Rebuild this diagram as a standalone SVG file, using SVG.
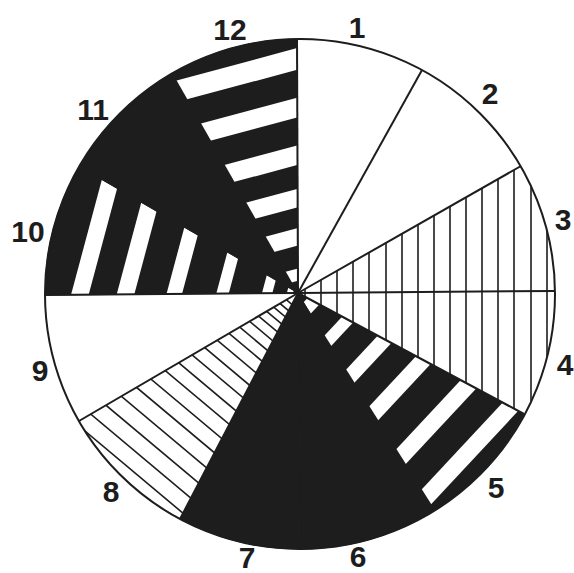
<svg xmlns="http://www.w3.org/2000/svg" width="574" height="573" viewBox="0 0 574 573">
<style>
.blk{fill:#1d1d1d;stroke:#1d1d1d;stroke-width:1}
.wht{fill:#ffffff}
.hatch line{stroke:#1d1d1d;stroke-width:1.6}
.bar{fill:#ffffff}
.div{stroke:#1d1d1d;stroke-width:2;fill:none}
.lbl{font-family:"Liberation Sans",Arial,sans-serif;font-weight:bold;font-size:30px;fill:#1d1d1d;text-anchor:middle}
</style>
<defs>
<clipPath id="c3"><path d="M298,293 L521,166 A255,255 0 0 1 555,291 Z"/></clipPath>
<clipPath id="c4"><path d="M298,293 L555,291 A255,255 0 0 1 524,414 Z"/></clipPath>
<clipPath id="c5"><path d="M298,293 L524,414 A255,255 0 0 1 435.1,510.3 Z"/></clipPath>
<clipPath id="c8"><path d="M298,293 L180,519 A255,255 0 0 1 79,421 Z"/></clipPath>
<clipPath id="c10"><path d="M298,293 L45,295 A255,255 0 0 1 79.2,166.5 Z"/></clipPath>
<clipPath id="c12"><path d="M298,293 L172.5,73.2 A255,255 0 0 1 297,39 Z"/></clipPath>
</defs>
<rect width="574" height="573" fill="#ffffff"/>

<g id="sector-1"><path class="wht" d="M298,293 L297,39 A255,255 0 0 1 422,70 Z"/></g>
<g id="sector-2"><path class="wht" d="M298,293 L422,70 A255,255 0 0 1 521,166 Z"/></g>
<g id="sector-3">
<path class="wht" d="M298,293 L521,166 A255,255 0 0 1 555,291 Z"/>
<g class="hatch" clip-path="url(#c3)">
<line x1="305" y1="0" x2="305" y2="573"/><line x1="321" y1="0" x2="321" y2="573"/><line x1="337" y1="0" x2="337" y2="573"/><line x1="353" y1="0" x2="353" y2="573"/><line x1="369" y1="0" x2="369" y2="573"/><line x1="386" y1="0" x2="386" y2="573"/><line x1="402" y1="0" x2="402" y2="573"/><line x1="418" y1="0" x2="418" y2="573"/><line x1="434" y1="0" x2="434" y2="573"/><line x1="450" y1="0" x2="450" y2="573"/><line x1="466" y1="0" x2="466" y2="573"/><line x1="482" y1="0" x2="482" y2="573"/><line x1="498" y1="0" x2="498" y2="573"/><line x1="514" y1="0" x2="514" y2="573"/><line x1="531" y1="0" x2="531" y2="573"/><line x1="547" y1="0" x2="547" y2="573"/>
</g>
</g>
<g id="sector-4">
<path class="wht" d="M298,293 L555,291 A255,255 0 0 1 524,414 Z"/>
<g class="hatch" clip-path="url(#c4)">
<line x1="305" y1="0" x2="305" y2="573"/><line x1="321" y1="0" x2="321" y2="573"/><line x1="337" y1="0" x2="337" y2="573"/><line x1="353" y1="0" x2="353" y2="573"/><line x1="369" y1="0" x2="369" y2="573"/><line x1="386" y1="0" x2="386" y2="573"/><line x1="402" y1="0" x2="402" y2="573"/><line x1="418" y1="0" x2="418" y2="573"/><line x1="434" y1="0" x2="434" y2="573"/><line x1="450" y1="0" x2="450" y2="573"/><line x1="466" y1="0" x2="466" y2="573"/><line x1="482" y1="0" x2="482" y2="573"/><line x1="498" y1="0" x2="498" y2="573"/><line x1="514" y1="0" x2="514" y2="573"/><line x1="531" y1="0" x2="531" y2="573"/><line x1="547" y1="0" x2="547" y2="573"/>
</g>
</g>
<g id="sector-5">
<path class="blk" d="M298,293 L524,414 A255,255 0 0 1 427.5,514.8 Z"/>
<g clip-path="url(#c5)"><g transform="translate(299,294) rotate(133)">
<rect class="bar" x="-300" y="-240" width="600" height="17"/>
<rect class="bar" x="-300" y="-194" width="600" height="17"/>
<rect class="bar" x="-300" y="-144" width="600" height="16"/>
<rect class="bar" x="-300" y="-101" width="600" height="15"/>
<rect class="bar" x="-300" y="-59" width="600" height="12"/>
<rect class="bar" x="-300" y="-22" width="600" height="13"/>
</g></g>
</g>
<g id="sector-6"><path class="blk" d="M298,293 L427.5,514.8 A255,255 0 0 1 300,549 Z"/></g>
<g id="sector-7"><path class="blk" d="M298,293 L300,549 A255,255 0 0 1 180,519 Z"/></g>
<g id="sector-8">
<path class="wht" d="M298,293 L180,519 A255,255 0 0 1 79,421 Z"/>
<g class="hatch" clip-path="url(#c8)"><g transform="translate(298,293) rotate(40)">
<line x1="-400" y1="256.3" x2="400" y2="256.3"/><line x1="-400" y1="242.6" x2="400" y2="242.6"/><line x1="-400" y1="226" x2="400" y2="226"/><line x1="-400" y1="209.4" x2="400" y2="209.4"/><line x1="-400" y1="192.7" x2="400" y2="192.7"/><line x1="-400" y1="176.1" x2="400" y2="176.1"/><line x1="-400" y1="160.5" x2="400" y2="160.5"/><line x1="-400" y1="144.8" x2="400" y2="144.8"/><line x1="-400" y1="130.1" x2="400" y2="130.1"/><line x1="-400" y1="115.5" x2="400" y2="115.5"/><line x1="-400" y1="101.8" x2="400" y2="101.8"/><line x1="-400" y1="88.1" x2="400" y2="88.1"/><line x1="-400" y1="75.3" x2="400" y2="75.3"/><line x1="-400" y1="63.6" x2="400" y2="63.6"/><line x1="-400" y1="52.8" x2="400" y2="52.8"/><line x1="-400" y1="43" x2="400" y2="43"/><line x1="-400" y1="34.2" x2="400" y2="34.2"/><line x1="-400" y1="26.4" x2="400" y2="26.4"/><line x1="-400" y1="19.6" x2="400" y2="19.6"/><line x1="-400" y1="12.7" x2="400" y2="12.7"/>
</g></g>
</g>
<g id="sector-9"><path class="wht" d="M298,293 L79,421 A255,255 0 0 1 45,295 Z"/></g>
<g id="sector-10">
<path class="blk" d="M298,293 L45,295 A255,255 0 0 1 79.2,166.5 Z"/>
<g clip-path="url(#c10)"><g transform="translate(299,294) rotate(-75)">
<rect class="bar" x="-300" y="-220" width="600" height="17"/>
<rect class="bar" x="-300" y="-176" width="600" height="17"/>
<rect class="bar" x="-300" y="-128" width="600" height="15"/>
<rect class="bar" x="-300" y="-80" width="600" height="12"/>
<rect class="bar" x="-300" y="-36" width="600" height="10"/>
<rect class="bar" x="-300" y="-12" width="600" height="6"/>
</g></g>
</g>
<g id="sector-11"><path class="blk" d="M298,293 L79.2,166.5 A255,255 0 0 1 172.5,73.2 Z"/></g>
<g id="sector-12">
<path class="blk" d="M298,293 L172.5,73.2 A255,255 0 0 1 297,39 Z"/>
<g clip-path="url(#c12)"><g transform="translate(299,294) rotate(-15)">
<rect class="bar" x="-300" y="-238" width="600" height="21"/>
<rect class="bar" x="-300" y="-190" width="600" height="19"/>
<rect class="bar" x="-300" y="-144" width="600" height="19"/>
<rect class="bar" x="-300" y="-102" width="600" height="18"/>
<rect class="bar" x="-300" y="-64" width="600" height="17"/>
<rect class="bar" x="-300" y="-25" width="600" height="12"/>
</g></g>
</g>

<g id="dividers" class="div">
<line x1="298" y1="293" x2="297" y2="39"/>
<line x1="298" y1="293" x2="422" y2="70"/>
<line x1="298" y1="293" x2="521" y2="166"/>
<line x1="298" y1="293" x2="555" y2="291"/>
<line x1="298" y1="293" x2="524" y2="414"/>
<line x1="298" y1="293" x2="180" y2="519"/>
<line x1="298" y1="293" x2="79" y2="421"/>
<line x1="298" y1="293" x2="45" y2="295"/>
<circle cx="300" cy="294" r="255"/>
</g>

<g id="labels">
<text class="lbl" x="357" y="38">1</text>
<text class="lbl" x="490" y="104">2</text>
<text class="lbl" x="563" y="230">3</text>
<text class="lbl" x="565" y="375">4</text>
<text class="lbl" x="496" y="498">5</text>
<text class="lbl" x="358" y="567">6</text>
<text class="lbl" x="247" y="568">7</text>
<text class="lbl" x="111" y="502">8</text>
<text class="lbl" x="40" y="381">9</text>
<text class="lbl" x="28" y="242">10</text>
<text class="lbl" x="93" y="120">11</text>
<text class="lbl" x="230" y="40">12</text>
</g>
</svg>
